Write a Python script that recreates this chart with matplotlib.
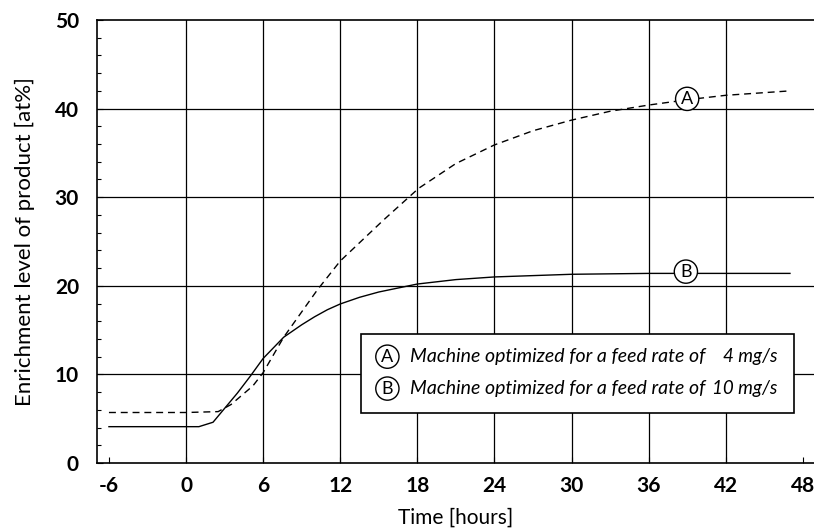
import matplotlib
matplotlib.use("Agg")
import matplotlib.pyplot as plt
from matplotlib.patches import Rectangle

plt.rcParams["font.family"] = ["Lato", "DejaVu Sans"]
plt.rcParams["axes.unicode_minus"] = False

# curve A: machine optimized for 4 mg/s (dashed)
t_a = [-6, 0, 2.5, 3.5, 5.2, 6, 7.6, 10.2, 12, 15.35, 18.1, 21, 24, 27, 30, 33, 36, 39, 42, 45, 47]
v_a = [5.7, 5.7, 5.8, 6.6, 8.7, 10.2, 14.2, 19.5, 22.8, 27.4, 31.0, 33.8, 35.9, 37.5, 38.7, 39.7, 40.4, 41.0, 41.5, 41.8, 42.0]

# curve B: machine optimized for 10 mg/s (solid)
t_b = [-6, 0, 1.0, 2.1, 4, 5, 6, 7.6, 9, 10, 11, 12, 13.5, 15, 18, 21, 24, 30, 36, 42, 47]
v_b = [4.1, 4.1, 4.1, 4.6, 7.9, 9.8, 11.8, 14.2, 15.6, 16.5, 17.3, 17.95, 18.7, 19.3, 20.2, 20.7, 21.0, 21.3, 21.4, 21.4, 21.4]

x_ticks = [-6, 0, 6, 12, 18, 24, 30, 36, 42, 48]
y_ticks = [0, 10, 20, 30, 40, 50]

fig = plt.figure(figsize=(8.14, 5.31), dpi=100)
ax = fig.add_axes([97 / 814, 1 - 463 / 531, 717 / 814, 443 / 531])

ax.plot(t_a, v_a, color="black", lw=1.0, ls=(0, (5, 3.5)), zorder=3)
ax.plot(t_b, v_b, color="black", lw=1.0, zorder=3)

ax.set_xlim(-6.93, 48.87)
ax.set_ylim(0, 50)
ax.set_xticks(x_ticks)
ax.set_yticks(y_ticks)
ax.set_yticks(range(0, 51, 2), minor=True)
ax.tick_params(direction="in", length=4, width=0.8, labelsize=15)
ax.tick_params(axis="y", pad=13)
ax.tick_params(axis="x", pad=9)
ax.tick_params(which="minor", direction="in", length=3, width=0.8)
for lab in ax.get_xticklabels() + ax.get_yticklabels():
    lab.set_fontweight("bold")

ax.grid(True, color="black", lw=0.9)
xg = ax.xaxis.get_gridlines()
xg[0].set_visible(False)
xg[-1].set_visible(False)
yg = ax.yaxis.get_gridlines()
yg[0].set_visible(False)
yg[-1].set_visible(False)

ax.spines["right"].set_visible(False)
for s in ["left", "top", "bottom"]:
    ax.spines[s].set_linewidth(1.2)

ax.set_xlabel("Time [hours]", fontsize=15, labelpad=9)
ax.set_ylabel("Enrichment level of product [at%]", fontsize=16, labelpad=14)

# circled labels on the curves
circ = dict(boxstyle="circle,pad=0.2", fc="white", ec="black", lw=1.0)
ax.text(39, 41.1, "A", ha="center", va="center", fontsize=13, bbox=circ, zorder=4)
ax.text(38.9, 21.6, "B", ha="center", va="center", fontsize=13, bbox=circ, zorder=4)

# legend box
ax.add_patch(Rectangle((0.368, 0.113), 0.604, 0.178, transform=ax.transAxes,
                       fc="white", ec="black", lw=1.2, zorder=5))
rows = [("A", "4 mg/s", 0.240), ("B", "10 mg/s", 0.168)]
for letter, rate, yy in rows:
    ax.text(0.405, yy, letter, transform=ax.transAxes, ha="center", va="center",
            fontsize=13, bbox=circ, zorder=6)
    ax.text(0.437, yy, "Machine optimized for a feed rate of", transform=ax.transAxes,
            ha="left", va="center", fontsize=14, style="italic", zorder=6)
    ax.text(0.949, yy, rate, transform=ax.transAxes, ha="right", va="center",
            fontsize=13.5, style="italic", zorder=6)

fig.savefig("out.png", dpi=100)
